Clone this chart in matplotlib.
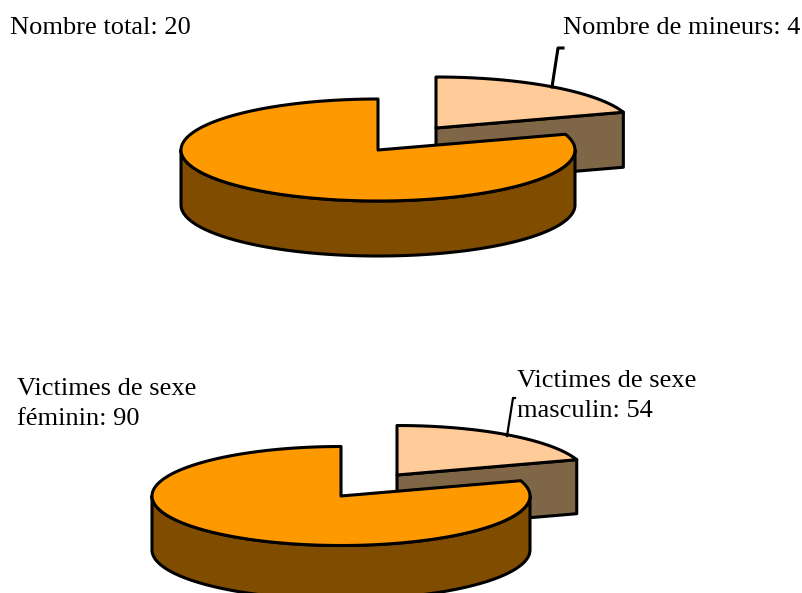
import numpy as np
from matplotlib import pyplot as plt
from matplotlib.patches import Polygon

# share of each pie as drawn (small slice, big slice)
top_shares = [0.2, 0.8]
bottom_shares = [0.2, 0.8]
top_labels = ["Nombre de mineurs: 4", "Nombre total: 20"]
bottom_labels = ["Victimes de sexe\nmasculin: 54", "Victimes de sexe\nféminin: 90"]

light = "#FFCC99"
light_side = "#7F6647"
main = "#FF9900"
main_side = "#7F4C00"

plt.rcParams['font.family'] = ['Liberation Serif']


def ell(cx, cy, rx, ry, a, b):
    # angles in degrees, clockwise from 12 o'clock
    t = np.radians(np.linspace(a, b, 200))
    return np.column_stack([cx + rx * np.sin(t), cy - ry * np.cos(t)])


def poly(ax, pts, color):
    ax.add_patch(Polygon(pts, closed=True, facecolor=color, edgecolor="black",
                         linewidth=2.2, joinstyle="round"))


def pie3d(ax, shares, c_main, c_slice, rx, ry, depth):
    ang = shares[0] * 360
    # exploded slice
    cx, cy = c_slice
    corner = ell(cx, cy, rx, ry, ang, ang)[0]
    poly(ax, [(cx, cy), corner, corner + [0, depth], (cx, cy + depth)], light_side)
    poly(ax, np.vstack([[(cx, cy)], ell(cx, cy, rx, ry, 0, ang)]), light)
    # big slice
    cx, cy = c_main
    rim = ell(cx, cy, rx, ry, 90, 270)
    poly(ax, np.vstack([rim, (rim + [0, depth])[::-1]]), main_side)
    poly(ax, np.vstack([[(cx, cy)], ell(cx, cy, rx, ry, ang, 360)]), main)


fig = plt.figure(figsize=(8.02, 5.93), dpi=100)
ax = fig.add_axes([0, 0, 1, 1])
ax.set_xlim(0, 802)
ax.set_ylim(593, 0)
ax.axis("off")

pie3d(ax, top_shares, (378, 150), (436, 128), 197, 51, 55)
pie3d(ax, bottom_shares, (341, 496), (397, 475), 189, 49.5, 54)

ax.plot([552, 558, 563], [87, 48, 48], color="black", lw=2.2, solid_joinstyle="round")
ax.plot([507, 513, 515], [436, 398, 398], color="black", lw=1.6, solid_joinstyle="round")

fs = 19
ax.text(563, 28, top_labels[0], fontsize=fs, ha="left", va="center", color="black", clip_on=True)
ax.text(10, 28, top_labels[1], fontsize=fs, ha="left", va="center", color="black")
ax.text(517, 396, bottom_labels[0], fontsize=fs, ha="left", va="center",
        color="black", linespacing=1.5)
ax.text(17, 404, bottom_labels[1], fontsize=fs, ha="left", va="center",
        color="black", linespacing=1.5)

fig.savefig("out.png", dpi=100)
